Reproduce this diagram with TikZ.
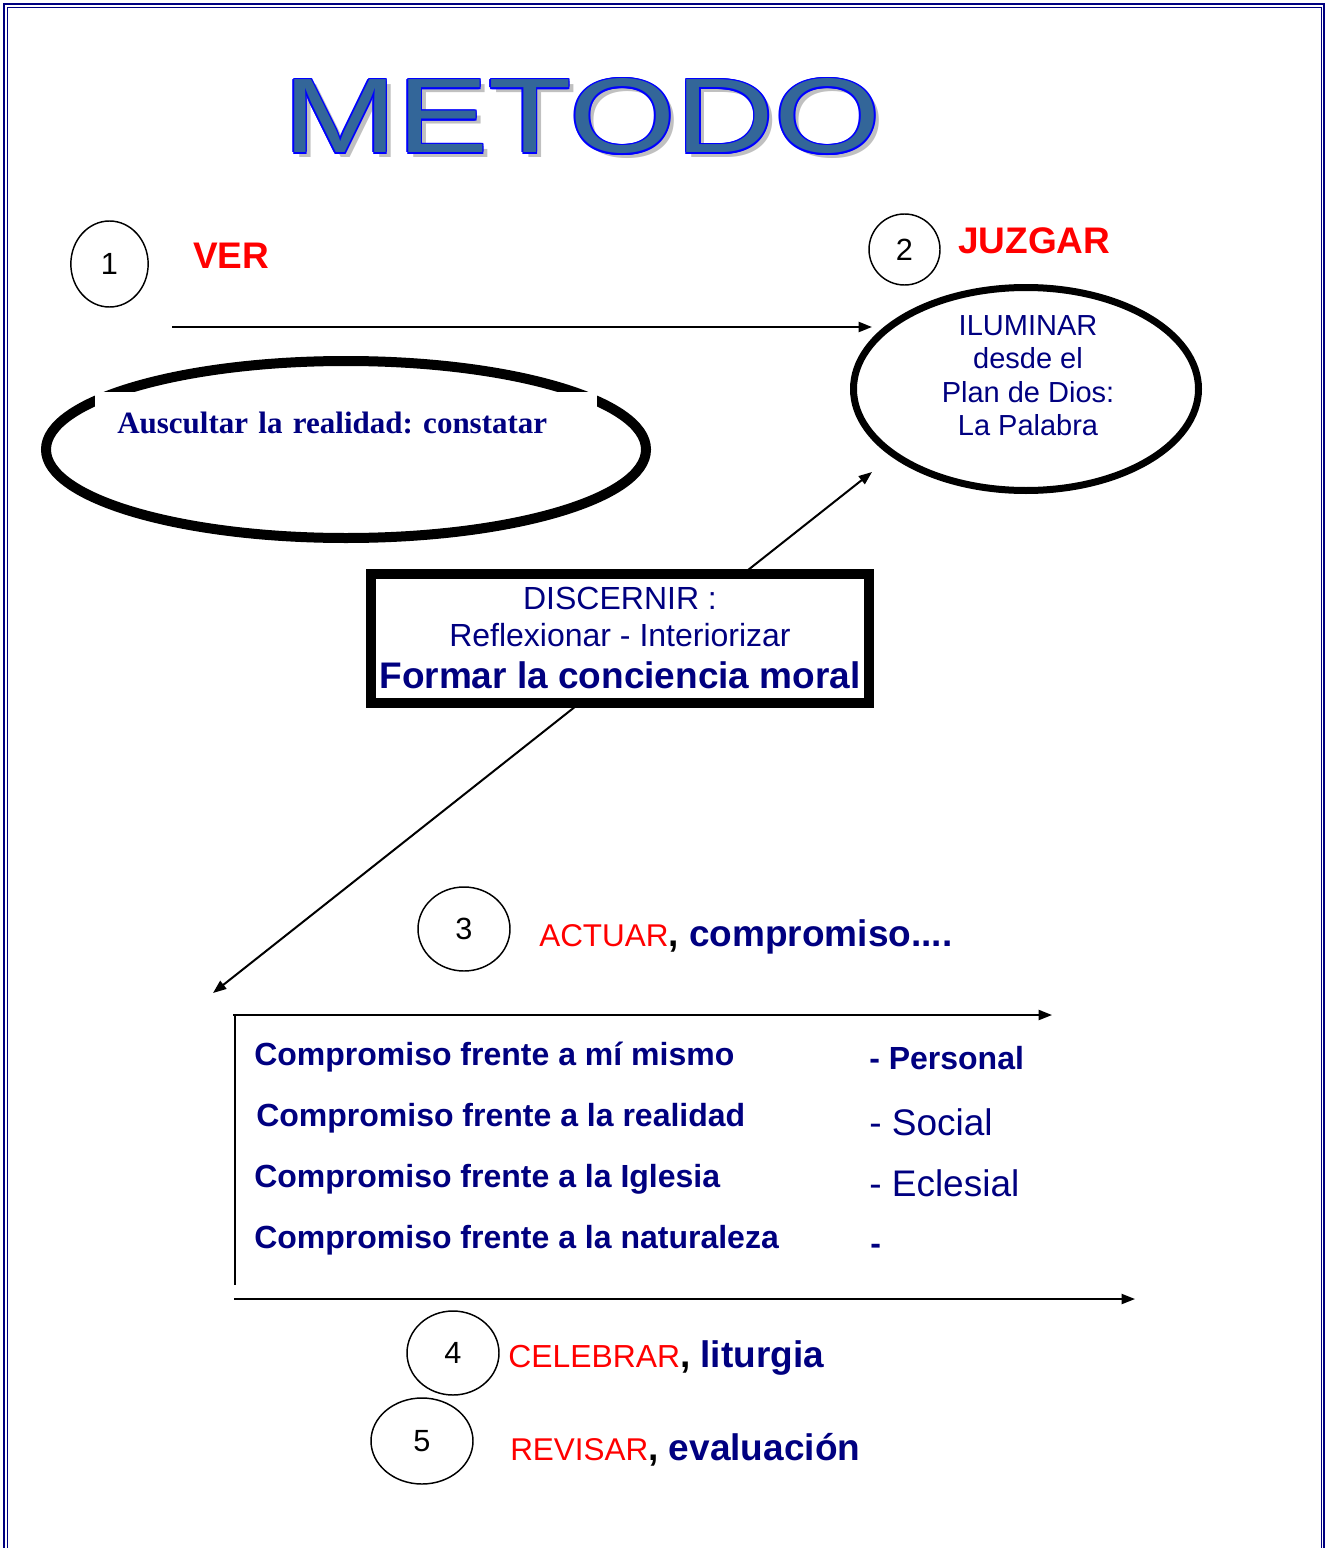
\documentclass[tikz,border=0pt]{standalone}
\usepackage{fontspec}
\setmainfont{Liberation Sans}
\newfontfamily\romana{Liberation Serif}
\usetikzlibrary{arrows.meta, shapes.geometric}
\definecolor{cAzul}{HTML}{000080}
\definecolor{cRojo}{HTML}{FF0000}
\definecolor{cTitulo}{HTML}{336699}
\definecolor{cContorno}{HTML}{0000FF}
\definecolor{cSombra}{HTML}{C0C0C0}
\frenchspacing

\begin{document}
\begin{tikzpicture}[
    x=0.75pt, y=-0.75pt,
    marco/.style={draw=cAzul},
    num/.style={draw, ellipse, line width=1.1pt, inner sep=0pt,
                font=\fontsize{23pt}{26pt}\selectfont},
    paso/.style={text=cRojo, font=\fontsize{27.75pt}{32pt}\selectfont\bfseries,
                 anchor=base west, inner sep=0pt},
    ovalo/.style={draw, ellipse, inner sep=0pt},
    caja/.style={draw, fill=white, line width=7.5pt, inner sep=0pt},
    flecha/.style={-{Triangle[length=10pt, width=7.5pt]}, line width=1.5pt},
    linea/.style={line width=1.1pt},
    ttl/.style={font=\fontsize{79.5pt}{80pt}\selectfont, anchor=base west,
                inner sep=0pt},
    comp/.style={text=cAzul, font=\fontsize{24pt}{28pt}\selectfont\bfseries,
                 anchor=base west, inner sep=0pt},
    ambito/.style={text=cAzul, font=\fontsize{27.75pt}{32pt}\selectfont,
                   anchor=base west, inner sep=0pt},
    etapa/.style={text=cAzul, font=\fontsize{27.75pt}{32pt}\selectfont\bfseries,
                  anchor=base west, inner sep=0pt},
]
\useasboundingbox (0,0) rectangle (1327,1548);

% ===================== Marco =====================
\draw[marco, line width=1.75pt] (4.2,1560) -- (4.2,4.2) -- (1323.8,4.2) -- (1323.8,1560);
\draw[marco, line width=1pt] (7.3,1560) -- (7.3,7.3) -- (1321.5,7.3) -- (1321.5,1560);

% ===================== Titulo =====================
\node[ttl, text=cSombra] (sombra) at (288,158) {\scalebox{1.29}[1]{METODO}};
\foreach \dx/\dy [count=\i] in {1.6/0, -1.6/0, 0/1.6, 0/-1.6,
                                1.1/1.1, 1.1/-1.1, -1.1/1.1, -1.1/-1.1}
    \node[ttl, text=cContorno] (borde\i) at (283+\dx,153+\dy) {\scalebox{1.29}[1]{METODO}};
\node[ttl, text=cTitulo] (titulo) at (283,153) {\scalebox{1.29}[1]{METODO}};

% ===================== 1: VER =====================
\node[num, minimum width=58pt, minimum height=64.5pt] (n1) at (109.5,264) {1};
\node[paso] (ver) at (193,268) {VER};

\node[ovalo, line width=7.5pt, minimum width=450pt, minimum height=132.75pt]
      (ausc) at (346,449.5) {};
\node[fill=white, anchor=base west, inner xsep=16.5pt, inner ysep=3pt,
      text height=27.75pt, text width=343.5pt, align=left, text=cAzul,
      font=\romana\fontsize{23.25pt}{28pt}\selectfont\bfseries]
      (auscTxt) at (95,433) {Auscultar la realidad: constatar};

% ===================== 2: JUZGAR =====================
\node[num, minimum width=53.25pt, minimum height=53.25pt] (n2) at (904.5,249.5) {2};
\node[paso] (juzgar) at (958,253) {JUZGAR};

\node[ovalo, line width=5.25pt, minimum width=258.75pt, minimum height=152.25pt]
      (ilum) at (1026,389) {};
\node[text=cAzul, align=center, font=\fontsize{21.75pt}{25.1pt}\selectfont]
      (ilumTxt) at (1028,375.6) {ILUMINAR\\desde el\\Plan de Dios:\\La Palabra};

\coordinate (verIni) at (172,327);
\coordinate (ilumIn) at (872,327);
\draw[flecha] (verIni) -- (ilumIn);

% ===================== Discernir (la flecha pasa por detras) =====================
\coordinate (actFin) at (213,993);
\coordinate (ilumBajo) at (872,472);
\draw[flecha, {Triangle[length=10pt, width=7.5pt]}-{Triangle[length=10pt, width=7.5pt]}]
      (actFin) -- (ilumBajo);

\node[caja, minimum width=373.5pt, minimum height=96.75pt, align=center, text=cAzul,
      font=\fontsize{24pt}{27.75pt}\selectfont] (disc) at (620,638.5)
      {DISCERNIR :\\Reflexionar - Interiorizar\\[3.75pt]
       {\fontsize{27.75pt}{31.5pt}\selectfont\bfseries Formar la conciencia moral}};

% ===================== 3: ACTUAR =====================
\node[num, minimum width=69pt, minimum height=63pt] (n3) at (464,929) {3};
\node[etapa] (actuar) at (539,946)
      {{\color{cRojo}\mdseries\fontsize{23.6pt}{28pt}\selectfont ACTUAR}{\color{black},}
       compromiso....};

\coordinate (lsA) at (233,1015);
\coordinate (lsB) at (1052,1015);
\draw[flecha] (lsA) -- (lsB);
\coordinate (lvA) at (235,1015);
\coordinate (lvB) at (235,1285);
\draw[linea] (lvA) -- (lvB);

\foreach \x/\y/\t [count=\i] in {254/1065/{Compromiso frente a mí mismo},
                                 256/1126/{Compromiso frente a la realidad},
                                 254/1187/{Compromiso frente a la Iglesia},
                                 254/1248/{Compromiso frente a la naturaleza}}
    \node[comp] (comp\i) at (\x,\y) {\t};

\node[comp] (amb1) at (869,1069) {- Personal};
\node[ambito] (amb2) at (869,1135) {- Social};
\node[ambito] (amb3) at (869,1196) {- Eclesial};
\node[comp] (amb4) at (870,1254) {-};

\coordinate (liA) at (234,1299);
\coordinate (liB) at (1135,1299);
\draw[flecha] (liA) -- (liB);

% ===================== 4 y 5 =====================
\node[num, minimum width=69pt, minimum height=63pt] (n4) at (453,1353) {4};
\node[etapa] (celebrar) at (508,1367)
      {{\color{cRojo}\mdseries\fontsize{23.9pt}{28pt}\selectfont CELEBRAR}{\color{black},}
       liturgia};

\node[num, minimum width=76.5pt, minimum height=64.5pt] (n5) at (422,1441) {5};
\node[etapa] (revisar) at (510,1460)
      {{\color{cRojo}\mdseries\fontsize{23.6pt}{28pt}\selectfont REVISAR}{\color{black},}
       evaluación};

\end{tikzpicture}
\end{document}
